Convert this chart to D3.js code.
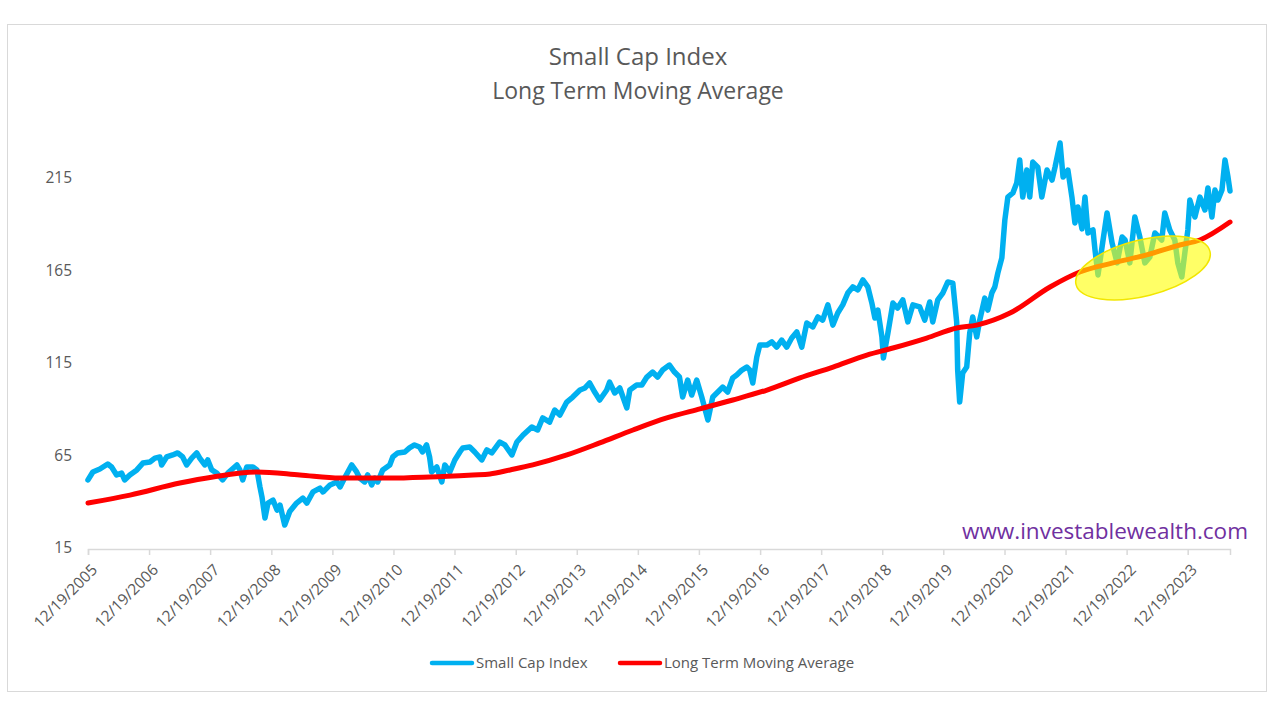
<!DOCTYPE html>
<html>
<head>
<meta charset="utf-8">
<script src="https://cdn.jsdelivr.net/npm/d3@7"></script>
<style>
  html, body { margin: 0; padding: 0; background: #ffffff; }
  svg { display: block; }
  text { font-family: "Open Sans", "Liberation Sans", Arial, sans-serif; }
</style>
</head>
<body>
<svg id="chart" width="1280" height="720"></svg>
<script>
// ---------- DATA ----------
const titleLines = ["Small Cap Index", "Long Term Moving Average"];
const seriesNames = ["Small Cap Index", "Long Term Moving Average"];
const yTickValues = [15, 65, 115, 165, 215];
const xTickLabels = ["12/19/2005","12/19/2006","12/19/2007","12/19/2008","12/19/2009","12/19/2010",
  "12/19/2011","12/19/2012","12/19/2013","12/19/2014","12/19/2015","12/19/2016","12/19/2017",
  "12/19/2018","12/19/2019","12/19/2020","12/19/2021","12/19/2022","12/19/2023"];
const watermark = "www.investablewealth.com";

const indexDates = [
"2005-12-19","2006-01-17","2006-02-28","2006-04-16","2006-05-09","2006-06-08","2006-07-08","2006-07-26","2006-08-26","2006-10-07","2006-11-12","2006-12-24",
"2007-01-23","2007-02-22","2007-03-04","2007-04-03","2007-05-09","2007-06-08","2007-07-08","2007-08-01","2007-08-31","2007-09-30","2007-10-18","2007-11-17","2007-12-05","2007-12-29",
"2008-01-28","2008-03-03","2008-04-03","2008-05-27","2008-06-14","2008-07-01","2008-07-25","2008-08-31","2008-09-24","2008-10-12","2008-10-24","2008-11-11","2008-11-29","2008-12-29",
"2009-01-22","2009-02-09","2009-03-09","2009-04-08","2009-05-19","2009-06-25","2009-07-19","2009-08-25","2009-10-06","2009-10-24","2009-12-05",
"2010-01-15","2010-02-03","2010-03-02","2010-04-13","2010-05-13","2010-05-31","2010-06-30","2010-07-18","2010-08-11","2010-08-29","2010-09-16","2010-10-16","2010-11-27","2010-12-15",
"2011-01-14","2011-02-25","2011-03-25","2011-04-24","2011-05-24","2011-06-11","2011-07-05","2011-07-23","2011-08-04","2011-09-04","2011-10-04","2011-10-22","2011-11-21","2011-12-21",
"2012-01-20","2012-02-07","2012-03-19","2012-04-18","2012-05-30","2012-06-29","2012-07-29","2012-09-15","2012-10-15","2012-11-26","2012-12-26",
"2013-02-01","2013-03-25","2013-04-29","2013-05-29","2013-07-10","2013-08-09","2013-09-09","2013-10-20","2013-11-25",
"2014-01-07","2014-02-06","2014-03-06","2014-04-05","2014-05-05","2014-06-16","2014-07-03","2014-08-03","2014-09-02","2014-10-14","2014-11-01","2014-12-12",
"2015-01-12","2015-02-11","2015-03-17","2015-04-16","2015-05-16","2015-06-26","2015-07-26","2015-08-25","2015-09-13","2015-10-13","2015-11-06","2015-12-06",
"2016-01-05","2016-02-11","2016-03-11","2016-04-22","2016-05-09","2016-06-08","2016-07-08","2016-08-01","2016-09-01","2016-09-30","2016-10-18","2016-11-05","2016-11-29","2016-12-17",
"2017-01-28","2017-02-27","2017-03-28","2017-04-27","2017-05-27","2017-06-26","2017-07-26","2017-08-25","2017-09-24","2017-10-30","2017-11-29","2017-12-28",
"2018-01-28","2018-02-27","2018-03-28","2018-04-27","2018-05-27","2018-06-26","2018-07-26","2018-08-25","2018-09-24","2018-10-18","2018-11-05","2018-11-23","2018-12-17","2018-12-26",
"2019-01-22","2019-02-21","2019-03-21","2019-04-21","2019-05-21","2019-06-20","2019-07-31","2019-08-30","2019-09-29","2019-10-17","2019-11-16","2019-12-16",
"2020-01-15","2020-02-14","2020-03-08","2020-03-14","2020-03-26","2020-04-13","2020-05-07","2020-05-25","2020-06-12","2020-07-06","2020-07-24","2020-08-23","2020-09-10","2020-10-04","2020-10-22","2020-11-09","2020-12-03","2020-12-21",
"2021-01-08","2021-02-07","2021-03-02","2021-03-20","2021-04-07","2021-05-01","2021-05-19","2021-06-06","2021-07-06","2021-07-30","2021-08-30","2021-09-29","2021-10-17","2021-11-16","2021-12-04",
"2022-01-02","2022-01-26","2022-02-13","2022-03-03","2022-03-27","2022-04-14","2022-05-02","2022-06-01","2022-06-13","2022-07-01","2022-07-25","2022-08-24","2022-09-23","2022-10-23","2022-11-22","2022-12-10",
"2023-01-07","2023-02-06","2023-03-08","2023-04-07","2023-05-07","2023-06-06","2023-07-17","2023-08-04","2023-09-03","2023-10-03","2023-10-21","2023-11-14","2023-12-02","2023-12-20",
"2024-01-01","2024-01-31","2024-03-01","2024-03-31","2024-04-18","2024-05-12","2024-05-30","2024-06-17","2024-07-11","2024-07-29","2024-08-16","2024-08-28"
];
const indexValues = [
51.8,56.1,57.7,60.4,58.8,54.5,55.5,51.8,54.5,57.2,60.9,61.5,
63.6,64.2,59.9,64.2,65.3,66.4,64.2,59.9,63.6,66.4,63.6,59.9,62.6,57.2,
55.5,51.8,55.5,59.9,57.2,51.8,58.8,58.8,57.2,48.0,42.6,31.2,39.3,40.9,
35.5,38.2,27.4,34.7,39.3,42.0,39.3,45.3,47.4,45.3,49.1,
50.7,48.0,52.8,59.9,56.1,52.8,50.7,54.5,49.1,52.8,50.7,57.2,59.9,64.2,
66.4,66.9,69.1,70.7,69.6,66.9,70.7,64.2,56.1,58.8,50.7,59.9,56.1,62.6,
66.9,69.1,69.6,66.9,62.6,68.0,66.4,72.3,70.7,65.3,72.3,
76.1,80.4,78.8,85.3,83.1,89.6,86.9,93.9,96.6,
100.4,101.5,104.2,99.3,95.0,100.4,104.7,98.8,101.5,90.7,100.4,103.1,
103.1,107.4,110.1,107.4,111.2,113.9,110.1,107.4,96.6,105.8,97.7,105.8,
96.6,84.2,96.6,100.4,102.0,99.3,106.9,108.5,111.2,112.8,111.2,104.2,118.2,124.7,
124.7,126.4,123.6,127.4,123.6,128.5,131.8,123.6,136.6,134.5,139.9,138.2,
146.4,135.5,142.0,146.4,152.8,156.1,154.5,159.9,156.1,147.4,139.3,143.6,129.1,117.7,
131.2,147.4,144.7,149.1,137.2,146.4,145.3,138.2,148.0,137.2,149.1,152.8,
158.8,158.2,137.2,111.2,93.9,109.6,112.8,131.2,139.9,129.1,138.2,150.1,143.6,152.8,156.1,163.6,171.8,192.3,
204.7,206.9,212.3,224.7,204.7,219.3,204.7,223.6,220.9,204.7,219.3,213.9,220.9,233.9,215.5,
219.3,204.7,190.7,199.3,187.5,204.7,185.3,186.9,176.1,162.6,177.7,196.1,179.9,169.1,183.1,181.5,
169.1,193.9,183.1,169.1,172.3,185.3,181.5,196.1,186.9,181.5,169.1,161.5,174.5,186.9,
203.1,193.9,204.7,197.7,209.6,193.9,208.5,203.1,208.5,224.7,215.5,208.0
];

const maDates = [
"2005-12-19","2006-08-27","2007-06-21","2008-01-05","2008-09-25","2009-06-07","2010-02-03","2010-11-28",
"2011-07-24","2012-04-07","2012-07-18","2012-11-15","2013-03-31","2013-10-21","2014-05-05","2014-11-20",
"2015-06-10","2015-12-25","2016-07-09","2017-01-29","2017-08-14","2018-02-28","2018-09-18","2019-02-21",
"2019-09-11","2020-03-08","2020-07-06","2021-01-21","2021-09-17","2022-03-14","2022-09-28","2023-04-18",
"2023-11-02","2024-03-01","2024-08-28"
];
const maValues = [
39.3,43.6,50.1,53.4,56.1,54.5,52.8,52.8,
53.4,54.5,55.0,57.2,59.9,65.3,71.8,78.8,
85.3,90.2,95.0,100.4,106.9,112.8,119.3,123.1,
128.5,133.9,135.5,142.0,156.1,164.2,169.1,173.4,
178.8,181.5,191.2
];

// ---------- CHART ----------
const svg = d3.select("#chart");
const parse = d3.timeParse("%Y-%m-%d");
const parseTick = d3.timeParse("%m/%d/%Y");

const x = d3.scaleTime()
  .domain([parse("2005-12-19"), parse("2024-08-28")])
  .range([88, 1230]);
const y = d3.scaleLinear().domain([15, 215]).range([548, 178]);

const textColor = "#595959";

// border
svg.append("rect").attr("x", 7.5).attr("y", 24.5).attr("width", 1259).attr("height", 667)
  .attr("fill", "#fff").attr("stroke", "#d9d9d9").attr("stroke-width", 1);

// title
svg.selectAll("text.title").data(titleLines).join("text")
  .attr("class", "title")
  .attr("x", 638).attr("y", (d, i) => 65 + i * 34)
  .attr("text-anchor", "middle")
  .attr("font-size", (d, i) => i === 0 ? 24 : 23).attr("fill", textColor)
  .text(d => d);

// y axis labels (no line, no ticks)
const yAxis = d3.axisLeft(y).tickValues(yTickValues).tickSize(0).tickPadding(0);
const gy = svg.append("g").attr("transform", "translate(72,0)").call(yAxis);
gy.select(".domain").remove();
gy.selectAll("text").attr("font-size", 15.5).attr("fill", textColor)
  .attr("font-family", "'Open Sans', 'Liberation Sans', Arial, sans-serif");

// x axis
const tickDates = xTickLabels.map(s => parseTick(s));
const xAxis = d3.axisBottom(x).tickValues(tickDates).tickSize(6).tickFormat(d3.timeFormat("%m/%d/%Y"));
const gx = svg.append("g").attr("transform", "translate(0,549)").call(xAxis);
gx.select(".domain").attr("stroke", "#d9d9d9").attr("stroke-width", 1.5);
gx.selectAll(".tick line").attr("stroke", "#d9d9d9").attr("stroke-width", 1.5);
gx.selectAll(".tick text")
  .attr("font-size", 15.5).attr("fill", textColor)
  .attr("font-family", "'Open Sans', 'Liberation Sans', Arial, sans-serif")
  .attr("text-anchor", "end")
  .attr("x", 0).attr("y", 0).attr("dy", "0.35em")
  .attr("transform", "translate(6,18) rotate(-45)");

// lines
const idxData = indexDates.map((d, i) => ({ date: parse(d), value: indexValues[i] }));
const maData = maDates.map((d, i) => ({ date: parse(d), value: maValues[i] }));

const line = d3.line().x(d => x(d.date)).y(d => y(d.value));
const smooth = d3.line().x(d => x(d.date)).y(d => y(d.value)).curve(d3.curveMonotoneX);

svg.append("path").datum(idxData).attr("d", line)
  .attr("fill", "none").attr("stroke", "#00B0F0").attr("stroke-width", 5.5)
  .attr("stroke-linejoin", "round").attr("stroke-linecap", "round");

svg.append("path").datum(maData).attr("d", smooth)
  .attr("fill", "none").attr("stroke", "#FF0000").attr("stroke-width", 5)
  .attr("stroke-linejoin", "round").attr("stroke-linecap", "round");

// highlight ellipse
svg.append("ellipse")
  .attr("cx", 1143).attr("cy", 268).attr("rx", 69).attr("ry", 28)
  .attr("transform", "rotate(-14,1143,268)")
  .attr("fill", "#FFFF00").attr("fill-opacity", 0.6)
  .attr("stroke", "#F2E600").attr("stroke-width", 1.5);

// watermark
svg.append("text").attr("x", 1248).attr("y", 539).attr("text-anchor", "end")
  .attr("font-size", 22.5).attr("fill", "#7030A0").text(watermark);

// legend
const legendColors = ["#00B0F0", "#FF0000"];
const legendX = [432, 620];
const lg = svg.append("g");
seriesNames.forEach((name, i) => {
  lg.append("line").attr("x1", legendX[i]).attr("x2", legendX[i] + 40)
    .attr("y1", 663).attr("y2", 663)
    .attr("stroke", legendColors[i]).attr("stroke-width", 4.5).attr("stroke-linecap", "round");
  lg.append("text").attr("x", legendX[i] + 44).attr("y", 668)
    .attr("font-size", 15).attr("fill", textColor).text(name);
});
</script>
</body>
</html>
